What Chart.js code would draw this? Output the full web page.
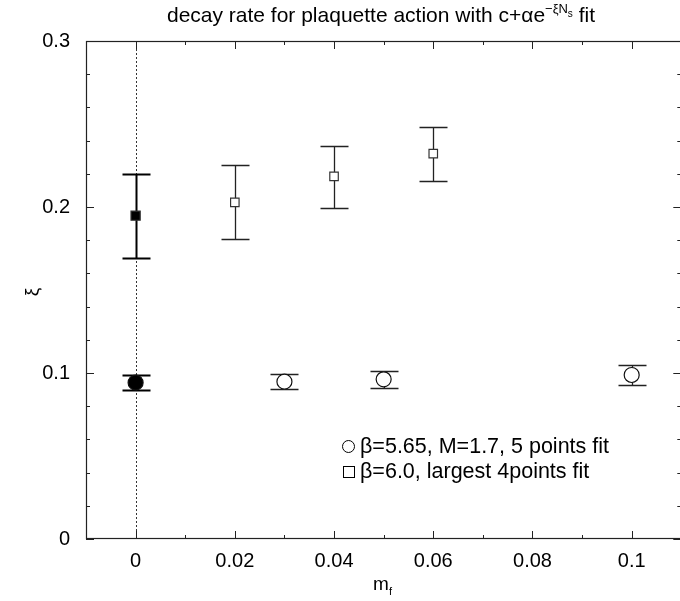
<!DOCTYPE html>
<html>
<head>
<meta charset="utf-8">
<script src="https://cdn.jsdelivr.net/npm/chart.js@4/dist/chart.umd.min.js"></script>
<style>
  html, body { margin: 0; padding: 0; background: #fff; overflow: hidden; }
  #wrap { width: 690px; height: 601px; }
</style>
</head>
<body>
<div id="wrap"><canvas id="c"></canvas></div>
<script>
// beta=5.65, M=1.7, 5 points fit (circles; first point filled)
var circleX  = [0, 0.03, 0.05, 0.1];
var circleY  = [0.0942, 0.0948, 0.0962, 0.0988];
var circleHi = [0.0990, 0.0994, 0.1014, 0.1046];
var circleLo = [0.0898, 0.0902, 0.0910, 0.0930];

// beta=6.0, largest 4points fit (squares; first point filled)
var squareX  = [0, 0.02, 0.04, 0.06];
var squareY  = [0.1948, 0.2028, 0.2185, 0.2321];
var squareHi = [0.2199, 0.2251, 0.2367, 0.2484];
var squareLo = [0.1695, 0.1805, 0.1996, 0.2158];

var xTicks = [0, 0.02, 0.04, 0.06, 0.08, 0.1];
var yTicks = [0, 0.1, 0.2, 0.3];
var legendLabels = ["\u03b2=5.65, M=1.7, 5 points fit", "\u03b2=6.0, largest 4points fit"];

var FONT = "'Liberation Sans', Arial, sans-serif";
var ink = "#000";

function pts(xs, ys) {
  return xs.map(function (x, i) { return { x: x, y: ys[i] }; });
}

// error bars, frame, inward ticks, zero line, legend and titles
var decor = {
  id: "decor",
  beforeDatasetsDraw: function (chart) {
    var ctx = chart.ctx, a = chart.chartArea;
    var xs = chart.scales.x, ys = chart.scales.y;
    ctx.save();
    // dotted vertical line at m_f = 0
    var x0 = Math.round(xs.getPixelForValue(0)) + 0.5;
    ctx.strokeStyle = "#333";
    ctx.lineWidth = 1;
    ctx.setLineDash([2, 2]);
    ctx.beginPath(); ctx.moveTo(x0, a.top); ctx.lineTo(x0, a.bottom); ctx.stroke();
    ctx.setLineDash([]);

    // frame
    ctx.strokeStyle = "#222";
    ctx.lineWidth = 1.2;
    ctx.strokeRect(a.left + 0.5, a.top + 0.5, a.right - a.left - 1, a.bottom - a.top - 1);

    // ticks (inward), x every 0.01, y every 0.02
    var v, p, len;
    ctx.lineWidth = 1;
    for (var i = -1; i <= 11; i++) {
      v = i / 100;
      p = Math.round(xs.getPixelForValue(v)) + 0.5;
      len = (i % 2 === 0) ? 8 : 4;
      ctx.beginPath();
      ctx.moveTo(p, a.bottom); ctx.lineTo(p, a.bottom - len);
      ctx.moveTo(p, a.top); ctx.lineTo(p, a.top + len);
      ctx.stroke();
    }
    for (var j = 0; j <= 15; j++) {
      v = j / 50;
      p = Math.round(ys.getPixelForValue(v)) + 0.5;
      len = (j % 5 === 0) ? 8 : 4;
      ctx.beginPath();
      ctx.moveTo(a.left, p); ctx.lineTo(a.left + len, p);
      ctx.moveTo(a.right, p); ctx.lineTo(a.right - len, p);
      ctx.stroke();
    }

    // error bars
    function bars(xArr, lo, hi) {
      xArr.forEach(function (x, k) {
        var px = Math.round(xs.getPixelForValue(x)) + 0.5;
        var pl = Math.round(ys.getPixelForValue(lo[k])) + 0.5;
        var ph = Math.round(ys.getPixelForValue(hi[k])) + 0.5;
        ctx.lineWidth = k === 0 ? 2 : 1.3;
        ctx.strokeStyle = k === 0 ? "#000" : "#222";
        ctx.beginPath();
        ctx.moveTo(px, pl); ctx.lineTo(px, ph);
        ctx.moveTo(px - 14, pl); ctx.lineTo(px + 14, pl);
        ctx.moveTo(px - 14, ph); ctx.lineTo(px + 14, ph);
        ctx.stroke();
      });
    }
    bars(circleX, circleLo, circleHi);
    bars(squareX, squareLo, squareHi);
    ctx.restore();
  },
  afterDraw: function (chart) {
    var ctx = chart.ctx;
    ctx.save();
    ctx.fillStyle = ink;
    ctx.strokeStyle = ink;
    ctx.textBaseline = "alphabetic";

    // title with superscript
    ctx.font = "21px " + FONT;
    var t1 = "decay rate for plaquette action with c+\u03b1e", t3 = " fit";
    var supA = "\u2212\u03beN", supB = "s";
    var w1 = ctx.measureText(t1).width, w3 = ctx.measureText(t3).width;
    ctx.font = "13px " + FONT;
    var wa = ctx.measureText(supA).width;
    ctx.font = "10px " + FONT;
    var wb = ctx.measureText(supB).width;
    var total = w1 + wa + wb + w3;
    var tx = 381 - total / 2, ty = 22;
    ctx.font = "21px " + FONT;
    ctx.textAlign = "left";
    ctx.fillText(t1, tx, ty);
    ctx.font = "13px " + FONT;
    ctx.fillText(supA, tx + w1, ty - 9);
    ctx.font = "10px " + FONT;
    ctx.fillText(supB, tx + w1 + wa, ty - 5);
    ctx.font = "21px " + FONT;
    ctx.fillText(t3, tx + w1 + wa + wb, ty);

    // x title m_f
    ctx.font = "19px " + FONT;
    var wm = ctx.measureText("m").width;
    ctx.fillText("m", 383 - wm / 2 - 2, 590);
    ctx.font = "11px " + FONT;
    ctx.fillText("f", 383 + wm / 2 - 2, 595);

    // y title xi
    ctx.save();
    ctx.translate(33, 292);
    ctx.rotate(-Math.PI / 2);
    ctx.font = "19px " + FONT;
    ctx.textAlign = "center";
    ctx.textBaseline = "middle";
    ctx.fillText("\u03be", 0, 0);
    ctx.restore();

    // legend
    ctx.font = "21.5px " + FONT;
    ctx.textAlign = "left";
    ctx.textBaseline = "middle";
    ctx.lineWidth = 1;
    ctx.fillText(legendLabels[0], 360, 447);
    ctx.fillText(legendLabels[1], 360, 472);
    ctx.beginPath(); ctx.arc(348.5, 446.5, 6, 0, Math.PI * 2); ctx.stroke();
    ctx.strokeRect(343.5, 466.5, 11, 11);
    ctx.restore();
  }
};

new Chart(document.getElementById("c"), {
  type: "scatter",
  data: {
    datasets: [
      {
        label: legendLabels[0],
        data: pts(circleX, circleY),
        pointStyle: "circle",
        pointRadius: 7.5,
        borderWidth: 1.2,
        borderColor: "#111",
        backgroundColor: circleX.map(function (_, i) { return i === 0 ? "#000" : "#fff"; })
      },
      {
        label: legendLabels[1],
        data: pts(squareX, squareY),
        pointStyle: "rect",
        pointRadius: squareX.map(function (_, i) { return i === 0 ? 6.5 : 6; }),
        borderWidth: 1.2,
        borderColor: "#333",
        backgroundColor: squareX.map(function (_, i) { return i === 0 ? "#000" : "#fff"; })
      }
    ]
  },
  options: {
    responsive: true,
    maintainAspectRatio: false,
    animation: false,
    events: [],
    layout: { padding: { left: 0, right: 4, top: 41, bottom: 0 } },
    plugins: { legend: { display: false }, tooltip: { enabled: false } },
    scales: {
      x: {
        type: "linear",
        min: -0.01,
        max: 0.11,
        afterFit: function (s) { s.height = 62; },
        afterBuildTicks: function (s) { s.ticks = xTicks.map(function (v) { return { value: v }; }); },
        border: { display: false },
        grid: { display: false, drawTicks: false },
        ticks: {
          color: ink,
          padding: 10,
          maxRotation: 0,
          font: { family: FONT, size: 20 },
          callback: function (v) { return String(v); }
        }
      },
      y: {
        min: 0,
        max: 0.3,
        afterFit: function (s) { s.width = 86; },
        afterBuildTicks: function (s) { s.ticks = yTicks.map(function (v) { return { value: v }; }); },
        border: { display: false },
        grid: { display: false, drawTicks: false },
        ticks: {
          color: ink,
          padding: 16,
          font: { family: FONT, size: 20 },
          callback: function (v) { return String(Math.round(v * 10) / 10); }
        }
      }
    }
  },
  plugins: [decor]
});
</script>
</body>
</html>
